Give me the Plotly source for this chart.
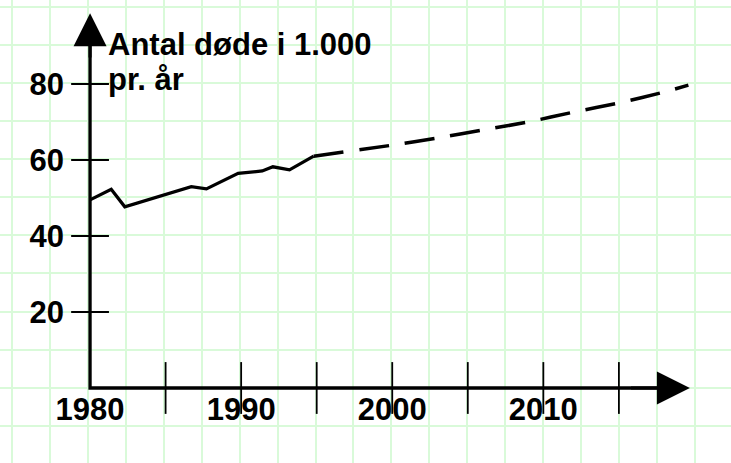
import plotly.graph_objects as go

# ---- data ----
years_hist = [1980, 1981.4, 1982.3, 1986.7, 1987.7, 1989.8, 1991.4, 1992.1, 1993.2, 1994.8]
deaths_hist = [49.5, 52.3, 47.7, 53.0, 52.4, 56.5, 57.1, 58.2, 57.4, 61.0]

years_proj = [1994.8, 2000, 2003, 2006, 2009, 2012, 2015, 2018, 2019.6]
deaths_proj = [61.0, 63.9, 65.8, 67.9, 70.0, 72.6, 75.0, 77.9, 79.7]

x_tick_years = [1985, 1990, 1995, 2000, 2005, 2010, 2015]
x_label_years = [1980, 1990, 2000, 2010]
x_label_text = ["1980", "1990", "2000", "2010"]
y_tick_values = [20, 40, 60, 80]
y_label_text = ["20", "40", "60", "80"]

title_line1 = "Antal døde i 1.000"
title_line2 = "pr. år"

# axis extents (data units)
x_origin, y_origin = 1980, 0
x_axis_end = 2019.7
y_axis_end = 98.6

FONT = "Liberation Sans, Arial, Helvetica, sans-serif"
GRID = "#d9fad9"

fig = go.Figure()

# invisible trace to create the background grid subplot (x/y), in page pixels
fig.add_trace(go.Scatter(x=[None], y=[None], xaxis="x", yaxis="y",
                         showlegend=False, hoverinfo="skip"))

# axis lines (L shape)
fig.add_trace(go.Scatter(
    x=[x_origin, x_origin, x_axis_end - 1.2],
    y=[y_axis_end - 6, y_origin, y_origin],
    mode="lines", line=dict(color="black", width=3.3),
    xaxis="x2", yaxis="y2", showlegend=False, hoverinfo="skip"))

# tick marks crossing the axes
fig.add_trace(go.Scatter(
    x=x_tick_years, y=[y_origin] * len(x_tick_years), mode="markers",
    marker=dict(symbol="line-ns-open", size=37, color="black",
                line=dict(color="black", width=1.8)),
    xaxis="x2", yaxis="y2", showlegend=False, hoverinfo="skip"))
fig.add_trace(go.Scatter(
    x=[x_origin] * len(y_tick_values), y=y_tick_values, mode="markers",
    marker=dict(symbol="line-ew-open", size=27, color="black",
                line=dict(color="black", width=1.8)),
    xaxis="x2", yaxis="y2", showlegend=False, hoverinfo="skip"))

# data
fig.add_trace(go.Scatter(
    x=years_hist, y=deaths_hist, mode="lines",
    line=dict(color="black", width=3.3),
    xaxis="x2", yaxis="y2", showlegend=False))
fig.add_trace(go.Scatter(
    x=years_proj, y=deaths_proj, mode="lines",
    line=dict(color="black", width=3.5, dash="30px,16px", shape="spline", smoothing=0.6),
    xaxis="x2", yaxis="y2", showlegend=False))

title_font = dict(family=FONT, size=31, color="black", weight="bold")
annotations = [
    # arrow heads
    dict(x=x_origin, y=y_axis_end, ax=x_origin, ay=y_axis_end - 12,
         xref="x2", yref="y2", axref="x2", ayref="y2", text="",
         showarrow=True, arrowhead=2, arrowwidth=3, arrowsize=2.2, arrowcolor="black"),
    dict(x=x_axis_end, y=y_origin, ax=x_axis_end - 4, ay=y_origin,
         xref="x2", yref="y2", axref="x2", ayref="y2", text="",
         showarrow=True, arrowhead=2, arrowwidth=3, arrowsize=2.2, arrowcolor="black"),
    # axis title (two lines)
    dict(x=x_origin, y=(388 - 44.5) / 3.8, xref="x2", yref="y2", xanchor="left",
         yanchor="middle", xshift=16, text=title_line1, showarrow=False,
         font=title_font),
    dict(x=x_origin, y=(388 - 80) / 3.8, xref="x2", yref="y2", xanchor="left",
         yanchor="middle", xshift=16, text=title_line2, showarrow=False,
         font=title_font),
]

fig.update_layout(
    width=731, height=463,
    margin=dict(l=0, r=0, t=0, b=0, autoexpand=False),
    paper_bgcolor="white", plot_bgcolor="rgba(0,0,0,0)",
    showlegend=False,
    annotations=annotations,
    xaxis=dict(domain=[0, 1], range=[0, 731], tick0=12, dtick=37.94,
               showgrid=True, gridcolor=GRID, gridwidth=2, zeroline=False,
               showticklabels=False, ticks="", showline=False, fixedrange=True),
    yaxis=dict(domain=[0, 1], range=[463, 0], tick0=6.7, dtick=38.1,
               showgrid=True, gridcolor=GRID, gridwidth=2, zeroline=False,
               showticklabels=False, ticks="", showline=False, fixedrange=True),
    xaxis2=dict(domain=[0, 1], range=[1974.04, 2022.42], anchor="free",
                position=75 / 463, showgrid=False, zeroline=False, showline=False,
                ticks="", tickvals=x_label_years, ticktext=x_label_text,
                ticklabelstandoff=0, fixedrange=True,
                tickfont=dict(family=FONT, size=31, color="black", weight="bold")),
    yaxis2=dict(domain=[0, 1], range=[-19.74, 102.1], anchor="free",
                position=90 / 731, showgrid=False, zeroline=False, showline=False,
                ticks="", tickvals=y_tick_values, ticktext=y_label_text,
                ticklabelstandoff=26, fixedrange=True,
                tickfont=dict(family=FONT, size=31, color="black", weight="bold")),
)

fig.write_html("out.html", config={"displayModeBar": False},
               post_script="document.body.style.margin='0';")
